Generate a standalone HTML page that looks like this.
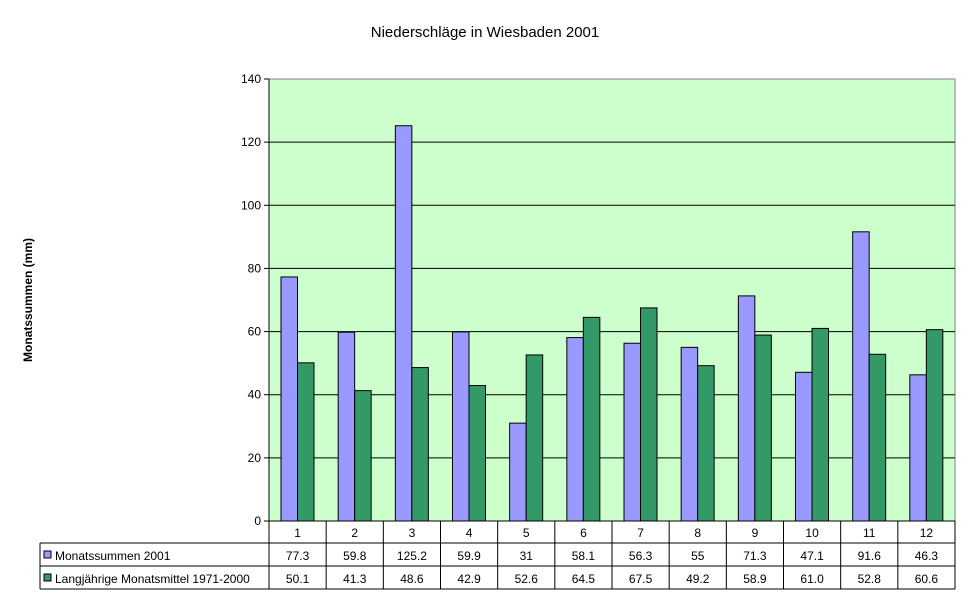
<!DOCTYPE html>
<html><head><meta charset="utf-8"><style>
body{margin:0;background:#fff;width:970px;height:604px;overflow:hidden}
svg{font-family:"Liberation Sans",Arial,sans-serif}
</style></head><body>
<svg id="c" width="970" height="604" xmlns="http://www.w3.org/2000/svg">
<text x="485" y="37" text-anchor="middle" font-size="15">Niederschläge in Wiesbaden  2001</text>
<text transform="translate(32,300) rotate(-90)" text-anchor="middle" font-size="12" font-weight="bold">Monatssummen (mm)</text>
<rect x="269" y="79" width="686" height="442" fill="#ccffcc" stroke="#808080"/>
<g id="grid"></g><g id="bars"></g><g id="table"></g>
</svg>
<script>
const categories=["1","2","3","4","5","6","7","8","9","10","11","12"];
const series1=[77.3,59.8,125.2,59.9,31,58.1,56.3,55,71.3,47.1,91.6,46.3];
const series2=[50.1,41.3,48.6,42.9,52.6,64.5,67.5,49.2,58.9,61.0,52.8,60.6];
const labels1=["77.3","59.8","125.2","59.9","31","58.1","56.3","55","71.3","47.1","91.6","46.3"];
const labels2=["50.1","41.3","48.6","42.9","52.6","64.5","67.5","49.2","58.9","61.0","52.8","60.6"];
const yTicks=[0,20,40,60,80,100,120,140];
const NS="http://www.w3.org/2000/svg";
const X0=269,X1=955,Y0=521,Y1=79,YMAX=140;
const cw=(X1-X0)/categories.length;
const y=v=>Y0-(v/YMAX)*(Y0-Y1);
const xc=i=>X0+i*cw;
function mk(t,a,p){const e=document.createElementNS(NS,t);for(const k in a)e.setAttribute(k,a[k]);document.getElementById(p).appendChild(e);return e;}
yTicks.forEach(t=>{
 if(t>0&&t<YMAX){const l=mk('line',{x1:X0,x2:X1,y1:y(t),y2:y(t),stroke:'#000'},'grid');
 
 }
 const k=mk('line',{x1:X0-5,x2:X0,y1:y(t),y2:y(t),stroke:'#000'},'grid');
 
 
 const tx=mk('text',{x:X0-8,y:y(t)+4,'text-anchor':'end','font-size':12},'grid');tx.textContent=t;
 
 
});
const bw=16.5,off=12;
categories.forEach((c,i)=>{
 const b1=mk('rect',{x:xc(i)+off,y:y(series1[i]),width:bw,height:Y0-y(series1[i]),fill:'#9999ff',stroke:'#000'},'bars');
 
 
 const b2=mk('rect',{x:xc(i)+off+bw,y:y(series2[i]),width:bw,height:Y0-y(series2[i]),fill:'#339966',stroke:'#000'},'bars');
 
 
});
mk('line',{x1:X0,x2:X0,y1:Y1,y2:589,stroke:'#000'},'table');
mk('line',{x1:X0-5,x2:X1,y1:Y0,y2:Y0,stroke:'#000'},'table');
[543,566,589].forEach(yy=>mk('line',{x1:40,x2:X1,y1:yy,y2:yy,stroke:'#000'},'table'));
mk('line',{x1:40,x2:40,y1:543,y2:589,stroke:'#000'},'table');
for(let i=1;i<=categories.length;i++)mk('line',{x1:xc(i),x2:xc(i),y1:Y0,y2:589,stroke:'#000'},'table');
categories.forEach((c,i)=>{
 const t=mk('text',{x:xc(i)+cw/2,y:537,'text-anchor':'middle','font-size':12},'table');t.textContent=c;
 
 
 const a=mk('text',{x:xc(i)+cw/2,y:560,'text-anchor':'middle','font-size':12},'table');a.textContent=labels1[i];
 
 
 const b=mk('text',{x:xc(i)+cw/2,y:583,'text-anchor':'middle','font-size':12},'table');b.textContent=labels2[i];
 
 
});
const k1=mk('rect',{x:44,y:551,width:7,height:7,fill:'#9999ff',stroke:'#000'},'table');


const l1=mk('text',{x:55,y:560,'font-size':12},'table');l1.textContent='Monatssummen 2001';


const k2=mk('rect',{x:44,y:574,width:7,height:7,fill:'#339966',stroke:'#000'},'table');


const l2=mk('text',{x:55,y:583,'font-size':12},'table');l2.textContent='Langjährige Monatsmittel 1971-2000';


</script>
</body></html>
